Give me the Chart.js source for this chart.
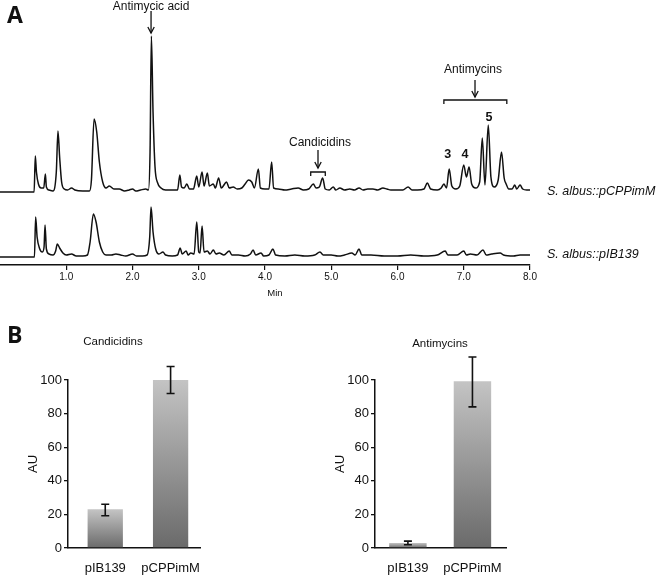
<!DOCTYPE html>
<html>
<head>
<meta charset="utf-8">
<script src="https://cdn.jsdelivr.net/npm/chart.js@4.4.0/dist/chart.umd.min.js"></script>
<style>
html,body{margin:0;padding:0;background:#fff;}
#wrap{position:relative;width:667px;height:579px;overflow:hidden;font-family:'Liberation Sans',Arial,Helvetica,sans-serif;color:#111;}
canvas{position:absolute;}
.lbl{position:absolute;white-space:nowrap;transform:translate(-50%,-50%);}
.panel{position:absolute;font-family:'Open Sans','Liberation Sans',sans-serif;font-weight:700;font-size:23px;line-height:1;color:#111;}
</style>
</head>
<body>
<div id="wrap">
  <canvas id="chrom" width="667" height="300" style="left:0;top:0;width:667px;height:300px"></canvas>
  <canvas id="cand" width="222" height="269" style="left:0;top:310px;width:222px;height:269px"></canvas>
  <canvas id="anti" width="221" height="269" style="left:307px;top:310px;width:221px;height:269px"></canvas>
  <div class="panel" style="left:7px;top:3px">A</div>
  <div class="panel" style="left:7px;top:323px">B</div>
  <div class="lbl" style="left:113px;top:341px;font-size:11.5px">Candicidins</div>
  <div class="lbl" style="left:440px;top:343px;font-size:11.5px">Antimycins</div>
</div>
<script>
// ---------- Panel A: chromatogram data (time in min, intensity above baseline) ----------
const xTickValues = [1, 2, 3, 4, 5, 6, 7, 8];

const topTimes = [0,0.515,0.533,0.55,0.58,0.62,0.66,0.685,0.70,0.74,0.80,0.85,0.875,0.90,0.93,0.97,1.02,1.08,1.13,1.25,1.35,1.38,1.42,1.46,1.50,1.55,1.60,1.65,1.72,1.80,1.88,1.95,2.00,2.05,2.12,2.20,2.24,2.265,2.285,2.31,2.34,2.38,2.43,2.50,2.60,2.68,2.715,2.74,2.78,2.82,2.86,2.92,2.97,3.00,3.05,3.08,3.13,3.16,3.22,3.25,3.30,3.34,3.42,3.46,3.52,3.58,3.65,3.70,3.75,3.80,3.84,3.90,3.93,4.00,4.06,4.10,4.13,4.20,4.30,4.40,4.50,4.58,4.66,4.73,4.77,4.82,4.87,4.91,4.97,5.03,5.07,5.13,5.20,5.28,5.35,5.42,5.48,5.55,5.63,5.70,5.78,5.84,5.90,6.00,6.08,6.16,6.22,6.30,6.40,6.45,6.50,6.60,6.66,6.70,6.74,6.78,6.82,6.88,6.94,7.00,7.04,7.08,7.12,7.18,7.24,7.28,7.32,7.37,7.41,7.46,7.52,7.57,7.61,7.64,7.68,7.73,7.77,7.80,7.85,7.89,7.95,8.00];
const topValues = [0,0,36,20,8,4,4,18,5,2,1,20,61,35,10,3,2,4,2,1,1,12,73,60,30,10,4,6,3,3,1,2,3,1,2,3,2,40,156,80,25,9,4,2,2,2,17,5,4,8,3,3,16,5,20,6,19,6,8,4,14,4,10,4,5,3,4,8,12,10,4,23,4,3,3,30,4,3,2,3,4,2,3,8,4,5,14,3,2,5,2,4,2,3,2,4,2,3,3,2,4,3,2,2,2,5,2,2,3,9,3,2,4,8,4,23,6,3,6,27,15,25,8,4,10,54,7,67,15,5,12,40,14,8,3,3,7,3,7,3,2,2];

const bottomTimes = [0,0.52,0.538,0.56,0.60,0.64,0.665,0.68,0.70,0.74,0.80,0.84,0.865,0.90,0.95,1.00,1.08,1.15,1.25,1.32,1.36,1.41,1.45,1.50,1.55,1.60,1.68,1.75,1.82,1.90,2.00,2.06,2.15,2.22,2.26,2.28,2.31,2.35,2.40,2.46,2.50,2.60,2.68,2.72,2.75,2.81,2.84,2.88,2.93,2.97,3.00,3.02,3.05,3.08,3.13,3.17,3.22,3.26,3.31,3.38,3.46,3.50,3.60,3.70,3.78,3.82,3.86,3.94,3.98,4.06,4.12,4.16,4.30,4.45,4.60,4.75,4.83,4.88,5.00,5.10,5.20,5.31,5.36,5.42,5.46,5.60,5.80,6.00,6.20,6.40,6.60,6.72,6.76,6.90,7.00,7.04,7.10,7.20,7.29,7.34,7.42,7.55,7.60,7.75,7.85,8.00];
const bottomValues = [0,0,40,20,8,5,10,32,8,3,2,6,13,9,4,2,3,1,1,2,15,43,35,15,5,2,2,3,2,1,3,1,1,2,20,50,25,8,3,5,2,1,2,9,3,6,2,4,3,35,5,4,31,5,6,3,7,3,4,2,6,2,2,1,3,7,2,4,1,2,8,2,1,2,1,2,5,2,2,1,2,4,2,8,2,2,1,1,2,1,2,6,2,2,6,2,3,2,7,2,3,4,2,1,2,2];

// ---------- Panel B: bar data ----------
const barCategories = ['pIB139', 'pCPPimM'];
const barYTicks = [0, 20, 40, 60, 80, 100];
const candicidinValues = [23, 100.5];
const candicidinErrLow = [19.2, 92];
const candicidinErrHigh = [26, 108];
const antimycinValues = [3, 99.3];
const antimycinErrLow = [1.9, 84];
const antimycinErrHigh = [4.1, 113.7];

const FONT = "'Liberation Sans', Arial, Helvetica, sans-serif";
const INK = '#111';

// vertical placement of the two stacked traces (in intensity units)
const TOP_OFFSET = 73, BOTTOM_OFFSET = 8;

const chromNotes = {
  id: 'chromNotes',
  afterDraw(chart) {
    const {ctx, scales: {x, y}} = chart;
    const X = t => x.getPixelForValue(t), Y = v => y.getPixelForValue(v);
    ctx.save();
    ctx.fillStyle = INK; ctx.strokeStyle = INK; ctx.lineWidth = 1.3;
    ctx.textAlign = 'center'; ctx.textBaseline = 'middle';
    ctx.font = `12px ${FONT}`;
    ctx.fillText('Antimycic acid', X(2.28), Y(258));
    ctx.fillText('Candicidins', X(4.83), Y(122));
    ctx.fillText('Antimycins', X(7.14), Y(195));
    ctx.font = `bold 12.5px ${FONT}`;
    ctx.fillText('3', X(6.76), Y(110));
    ctx.fillText('4', X(7.02), Y(110));
    ctx.fillText('5', X(7.38), Y(147));
    const arrow = (t, v0, v1) => {
      const px = X(t), a = Y(v0), b = Y(v1);
      ctx.beginPath(); ctx.moveTo(px, a); ctx.lineTo(px, b); ctx.stroke();
      ctx.beginPath(); ctx.moveTo(px - 3.2, b - 6); ctx.lineTo(px, b); ctx.lineTo(px + 3.2, b - 6); ctx.stroke();
    };
    arrow(2.28, 254, 232);
    arrow(4.80, 115, 97);
    arrow(7.17, 185, 168);
    const bracket = (t0, t1, v) => {
      const a = X(t0), b = X(t1), py = Y(v);
      ctx.beginPath();
      ctx.moveTo(a, py + 4); ctx.lineTo(a, py); ctx.lineTo(b, py); ctx.lineTo(b, py + 4);
      ctx.stroke();
    };
    bracket(4.69, 4.91, 93);
    bracket(6.70, 7.65, 165);
    ctx.textAlign = 'left';
    ctx.font = `italic 12.5px ${FONT}`;
    ctx.fillText('S. albus::pCPPimM', chart.chartArea.right + 17, Y(TOP_OFFSET));
    ctx.fillText('S. albus::pIB139', chart.chartArea.right + 17, Y(BOTTOM_OFFSET + 2));
    ctx.textAlign = 'center';
    ctx.font = `9.5px ${FONT}`;
    ctx.fillText('Min', X(4.15), 293);
    ctx.restore();
  }
};

new Chart(document.getElementById('chrom'), {
  type: 'line',
  data: {
    datasets: [
      {label: 'S. albus::pCPPimM', data: topTimes.map((t, i) => ({x: t, y: topValues[i] + TOP_OFFSET})),
       borderColor: INK, borderWidth: 1.5, pointRadius: 0, cubicInterpolationMode: 'monotone', clip: false, fill: false},
      {label: 'S. albus::pIB139', data: bottomTimes.map((t, i) => ({x: t, y: bottomValues[i] + BOTTOM_OFFSET})),
       borderColor: INK, borderWidth: 1.5, pointRadius: 0, cubicInterpolationMode: 'monotone', clip: false, fill: false}
    ]
  },
  options: {
    responsive: false, animation: false, devicePixelRatio: 1,
    layout: {padding: {left: 0, right: 137, top: 0, bottom: 0}},
    plugins: {legend: {display: false}, tooltip: {enabled: false}},
    scales: {
      x: {
        type: 'linear', min: 0, max: 8,
        afterBuildTicks: s => { s.ticks = xTickValues.map(v => ({value: v})); },
        afterFit: s => { s.height = 35; },
        grid: {drawOnChartArea: false, drawTicks: true, tickLength: 5, color: INK, lineWidth: 1.2},
        border: {display: true, color: INK, width: 1.5},
        ticks: {padding: 1, font: {size: 10, family: FONT}, color: INK, maxRotation: 0, autoSkip: false,
                callback: v => Number(v).toFixed(1)}
      },
      y: {display: false, min: 0, max: 265}
    }
  },
  plugins: [chromNotes]
});

// ---------- Bar charts ----------
const errPlugin = {
  id: 'errbars',
  afterDatasetsDraw(chart, args, opts) {
    const {ctx} = chart, ys = chart.scales.y;
    const meta = chart.getDatasetMeta(0);
    ctx.save();
    ctx.strokeStyle = INK; ctx.lineWidth = 1.6;
    meta.data.forEach((el, i) => {
      const x = el.x, yl = ys.getPixelForValue(opts.lo[i]), yh = ys.getPixelForValue(opts.hi[i]);
      ctx.beginPath();
      ctx.moveTo(x, yl); ctx.lineTo(x, yh);
      ctx.moveTo(x - 4, yl); ctx.lineTo(x + 4, yl);
      ctx.moveTo(x - 4, yh); ctx.lineTo(x + 4, yh);
      ctx.stroke();
    });
    ctx.restore();
  }
};

function barGradient(c) {
  const chart = c.chart, ys = chart.scales.y;
  if (!ys || !chart.chartArea) return '#999';
  const top = ys.getPixelForValue(c.parsed ? c.parsed.y : 0), base = ys.getPixelForValue(0);
  const g = chart.ctx.createLinearGradient(0, top, 0, base);
  g.addColorStop(0, '#c4c4c4');
  g.addColorStop(1, '#6a6a6a');
  return g;
}

function makeBar(id, values, lo, hi, xMin, xMax, barPct) {
  return new Chart(document.getElementById(id), {
    type: 'bar',
    data: {datasets: [{data: values.map((v, i) => ({x: i, y: v})), backgroundColor: barGradient, borderWidth: 0,
           barPercentage: barPct, categoryPercentage: 1}]},
    options: {
      responsive: false, animation: false, devicePixelRatio: 1,
      layout: {padding: {left: 0, right: 22, top: 70, bottom: 0}},
      plugins: {legend: {display: false}, tooltip: {enabled: false}, errbars: {lo, hi}},
      scales: {
        x: {
          type: 'linear', min: xMin, max: xMax, offset: false,
          afterBuildTicks: s => { s.ticks = barCategories.map((c, i) => ({value: i})); },
          afterFit: s => { s.height = 31; },
          grid: {display: false},
          border: {display: true, color: INK, width: 1.5},
          ticks: {padding: 5, font: {size: 13, family: FONT}, color: INK, autoSkip: false, maxRotation: 0,
                  callback: v => barCategories[v] ?? ''}
        },
        y: {
          min: 0, max: 100,
          afterBuildTicks: s => { s.ticks = barYTicks.map(v => ({value: v})); },
          afterFit: s => { s.width = 68; },
          grid: {drawOnChartArea: false, drawTicks: true, tickLength: 4, color: INK, lineWidth: 1.3},
          border: {display: true, color: INK, width: 1.5},
          ticks: {padding: 2, font: {size: 13, family: FONT}, color: INK},
          title: {display: true, text: 'AU', font: {size: 13, family: FONT}, color: INK, padding: {top: 26, bottom: 0}}
        }
      }
    },
    plugins: [errPlugin]
  });
}

makeBar('cand', candicidinValues, candicidinErrLow, candicidinErrHigh, -0.57, 1.45, 0.54);
makeBar('anti', antimycinValues, antimycinErrLow, antimycinErrHigh, -0.51, 1.52, 0.58);
</script>
</body>
</html>
